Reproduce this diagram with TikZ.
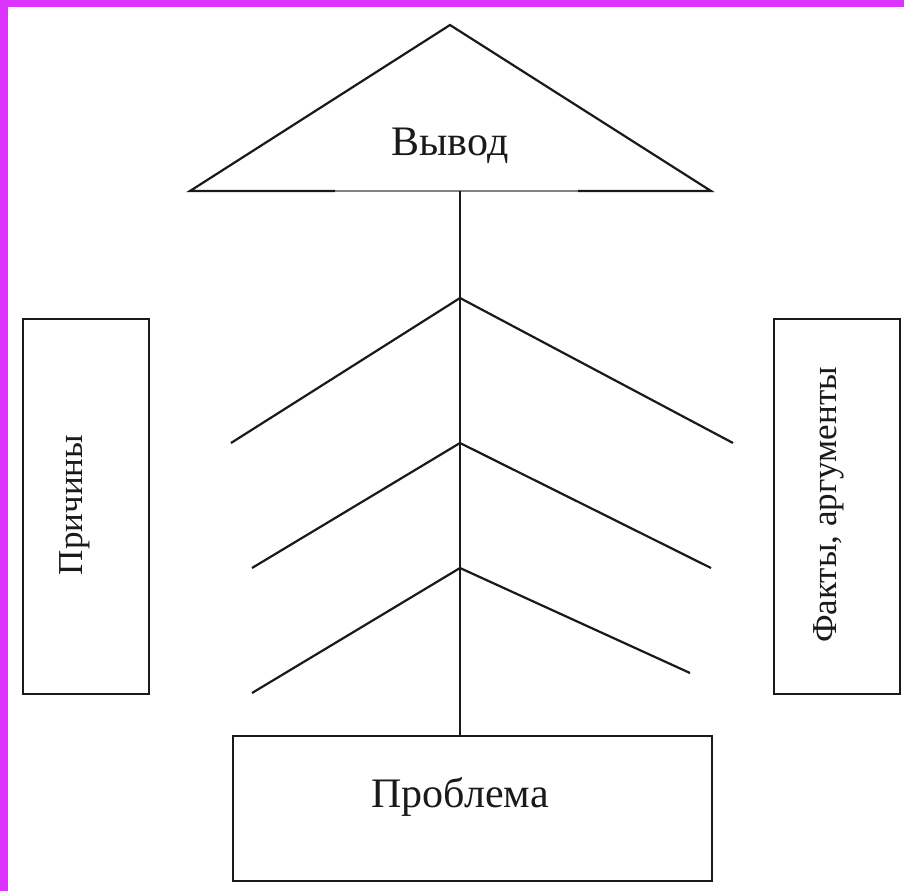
\documentclass[tikz,border=0pt]{standalone}
\usepackage{fontspec}
\setmainfont{Liberation Serif}
\definecolor{frame}{HTML}{DD33FF}
\definecolor{ink}{HTML}{1A1A1A}
\begin{document}
\begin{tikzpicture}[x=1pt,y=-1pt,
  line/.style={draw=ink,line width=2.2pt},
  box/.style={draw=ink,line width=2.2pt,fill=white},
  lbl/.style={font=\fontsize{42}{44}\selectfont,text=ink,inner sep=0pt,anchor=base},
  slbl/.style={font=\fontsize{35}{37}\selectfont,text=ink,inner sep=0pt,anchor=base,rotate=90}]
\useasboundingbox (0,0) rectangle (904,891);
\fill[white] (0,0) rectangle (904,891);
\fill[frame] (0,0) rectangle (904,7);
\fill[frame] (0,0) rectangle (8,891);
% triangle
\coordinate (apex) at (450,25);
\coordinate (bl) at (190,191);
\coordinate (br) at (711,191);
\coordinate (bm1) at (335,191);
\coordinate (bm2) at (578,191);
\draw[line,line join=miter] (bm1) -- (bl) -- (apex) -- (br) -- (bm2);
\draw[draw=ink!55,line width=1.6pt] (bm1) -- (bm2);
\node[lbl] (vyvod) at (450,155) {Вывод};
% spine
\coordinate (stop) at (460,191);
\node[box,minimum width=479pt,minimum height=145pt,anchor=north west] (prob) at (232,735) {};
\node[lbl] (probt) at (460,807) {Проблема};
\draw[line] (stop) -- (prob.north -| stop);
% chevrons
\coordinate (a1) at (460,298); \coordinate (l1) at (231,443); \coordinate (r1) at (733,443);
\coordinate (a2) at (460,443); \coordinate (l2) at (252,568); \coordinate (r2) at (711,568);
\coordinate (a3) at (460,568); \coordinate (l3) at (252,693); \coordinate (r3) at (690,673);
\draw[line] (l1) -- (a1) -- (r1);
\draw[line] (l2) -- (a2) -- (r2);
\draw[line] (l3) -- (a3) -- (r3);
% side boxes
\node[box,minimum width=126pt,minimum height=375pt,anchor=north west] (left) at (22,318) {};
\node[slbl] (prich) at (82,505) {Причины};
\node[box,minimum width=126pt,minimum height=375pt,anchor=north west] (right) at (773,318) {};
\node[slbl] (fakty) at (836,505) {Факты, аргументы};
\end{tikzpicture}
\end{document}
